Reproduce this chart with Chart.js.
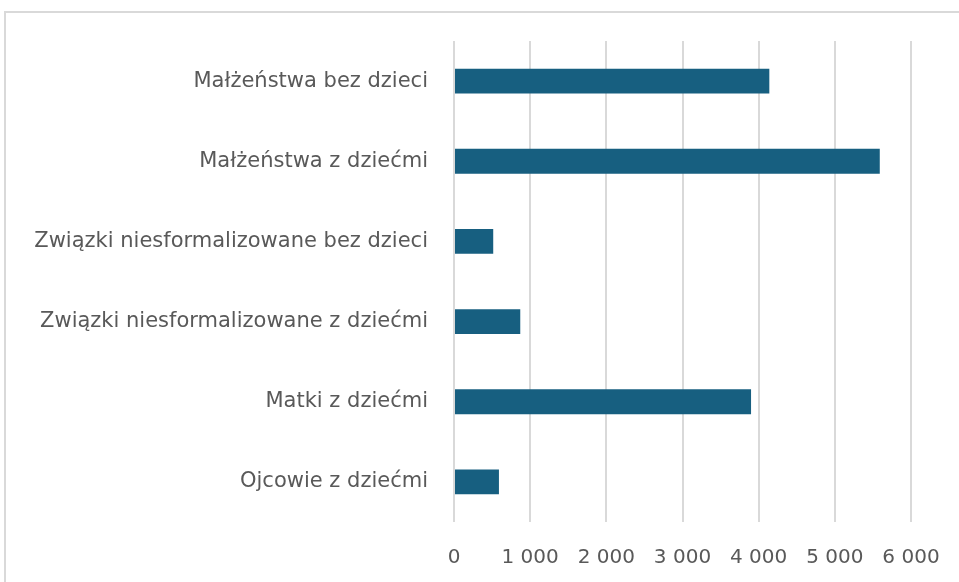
<!DOCTYPE html>
<html>
<head>
<meta charset="utf-8">
<script src="https://cdn.jsdelivr.net/npm/chart.js@4"></script>
<style>
  html,body{margin:0;padding:0;background:#fff;overflow:hidden}
  #wrap{position:relative;width:959px;height:582px}
  #frame{position:absolute;left:4px;top:11px;width:980px;height:620px;border:2px solid #d9d9d9;box-sizing:border-box}
  canvas{position:absolute;left:0;top:0}
</style>
</head>
<body>
<div id="wrap">
  <div id="frame"></div>
  <canvas id="chart" width="959" height="582"></canvas>
</div>
<script>
// data
const categories = [
  'Małżeństwa bez dzieci',
  'Małżeństwa z dziećmi',
  'Związki niesformalizowane bez dzieci',
  'Związki niesformalizowane z dziećmi',
  'Matki z dziećmi',
  'Ojcowie z dziećmi'
];
const values = [4140, 5590, 515, 870, 3900, 590];
const xTicks = [0, 1000, 2000, 3000, 4000, 5000, 6000];

function fmt(v){ return String(v).replace(/\B(?=(\d{3})+(?!\d))/g, ' ') }

const labelFont = {family:'"DejaVu Sans", sans-serif', size:21};
const tickFont = {family:'"DejaVu Sans", sans-serif', size:20};

const chart = new Chart(document.getElementById('chart').getContext('2d'), {
  type:'bar',
  data:{ labels:categories, datasets:[{ data:values, backgroundColor:'#175f80', borderWidth:0, barPercentage:0.31, categoryPercentage:1 }] },
  options:{
    indexAxis:'y', responsive:false, animation:false,
    layout:{padding:{top:41, right:48, left:0, bottom:0}},
    plugins:{legend:{display:false}, tooltip:{enabled:false}},
    scales:{
      x:{
        min:0, max:6000,
        afterBuildTicks(s){ s.ticks = xTicks.map(v=>({value:v})) },
        afterFit(s){ s.height = 60; s.paddingRight = 0; s.paddingLeft = 0 },
        grid:{color:'#d9d9d9', lineWidth:2, drawTicks:false},
        border:{display:false},
        ticks:{color:'#595959', font:tickFont, padding:24, callback:v=>fmt(v)}
      },
      y:{
        afterFit(s){ s.width = 454 },
        grid:{display:false, drawTicks:false},
        border:{display:false},
        ticks:{color:'#595959', font:labelFont, padding:26}
      }
    }
  }
});
</script>
</body>
</html>
